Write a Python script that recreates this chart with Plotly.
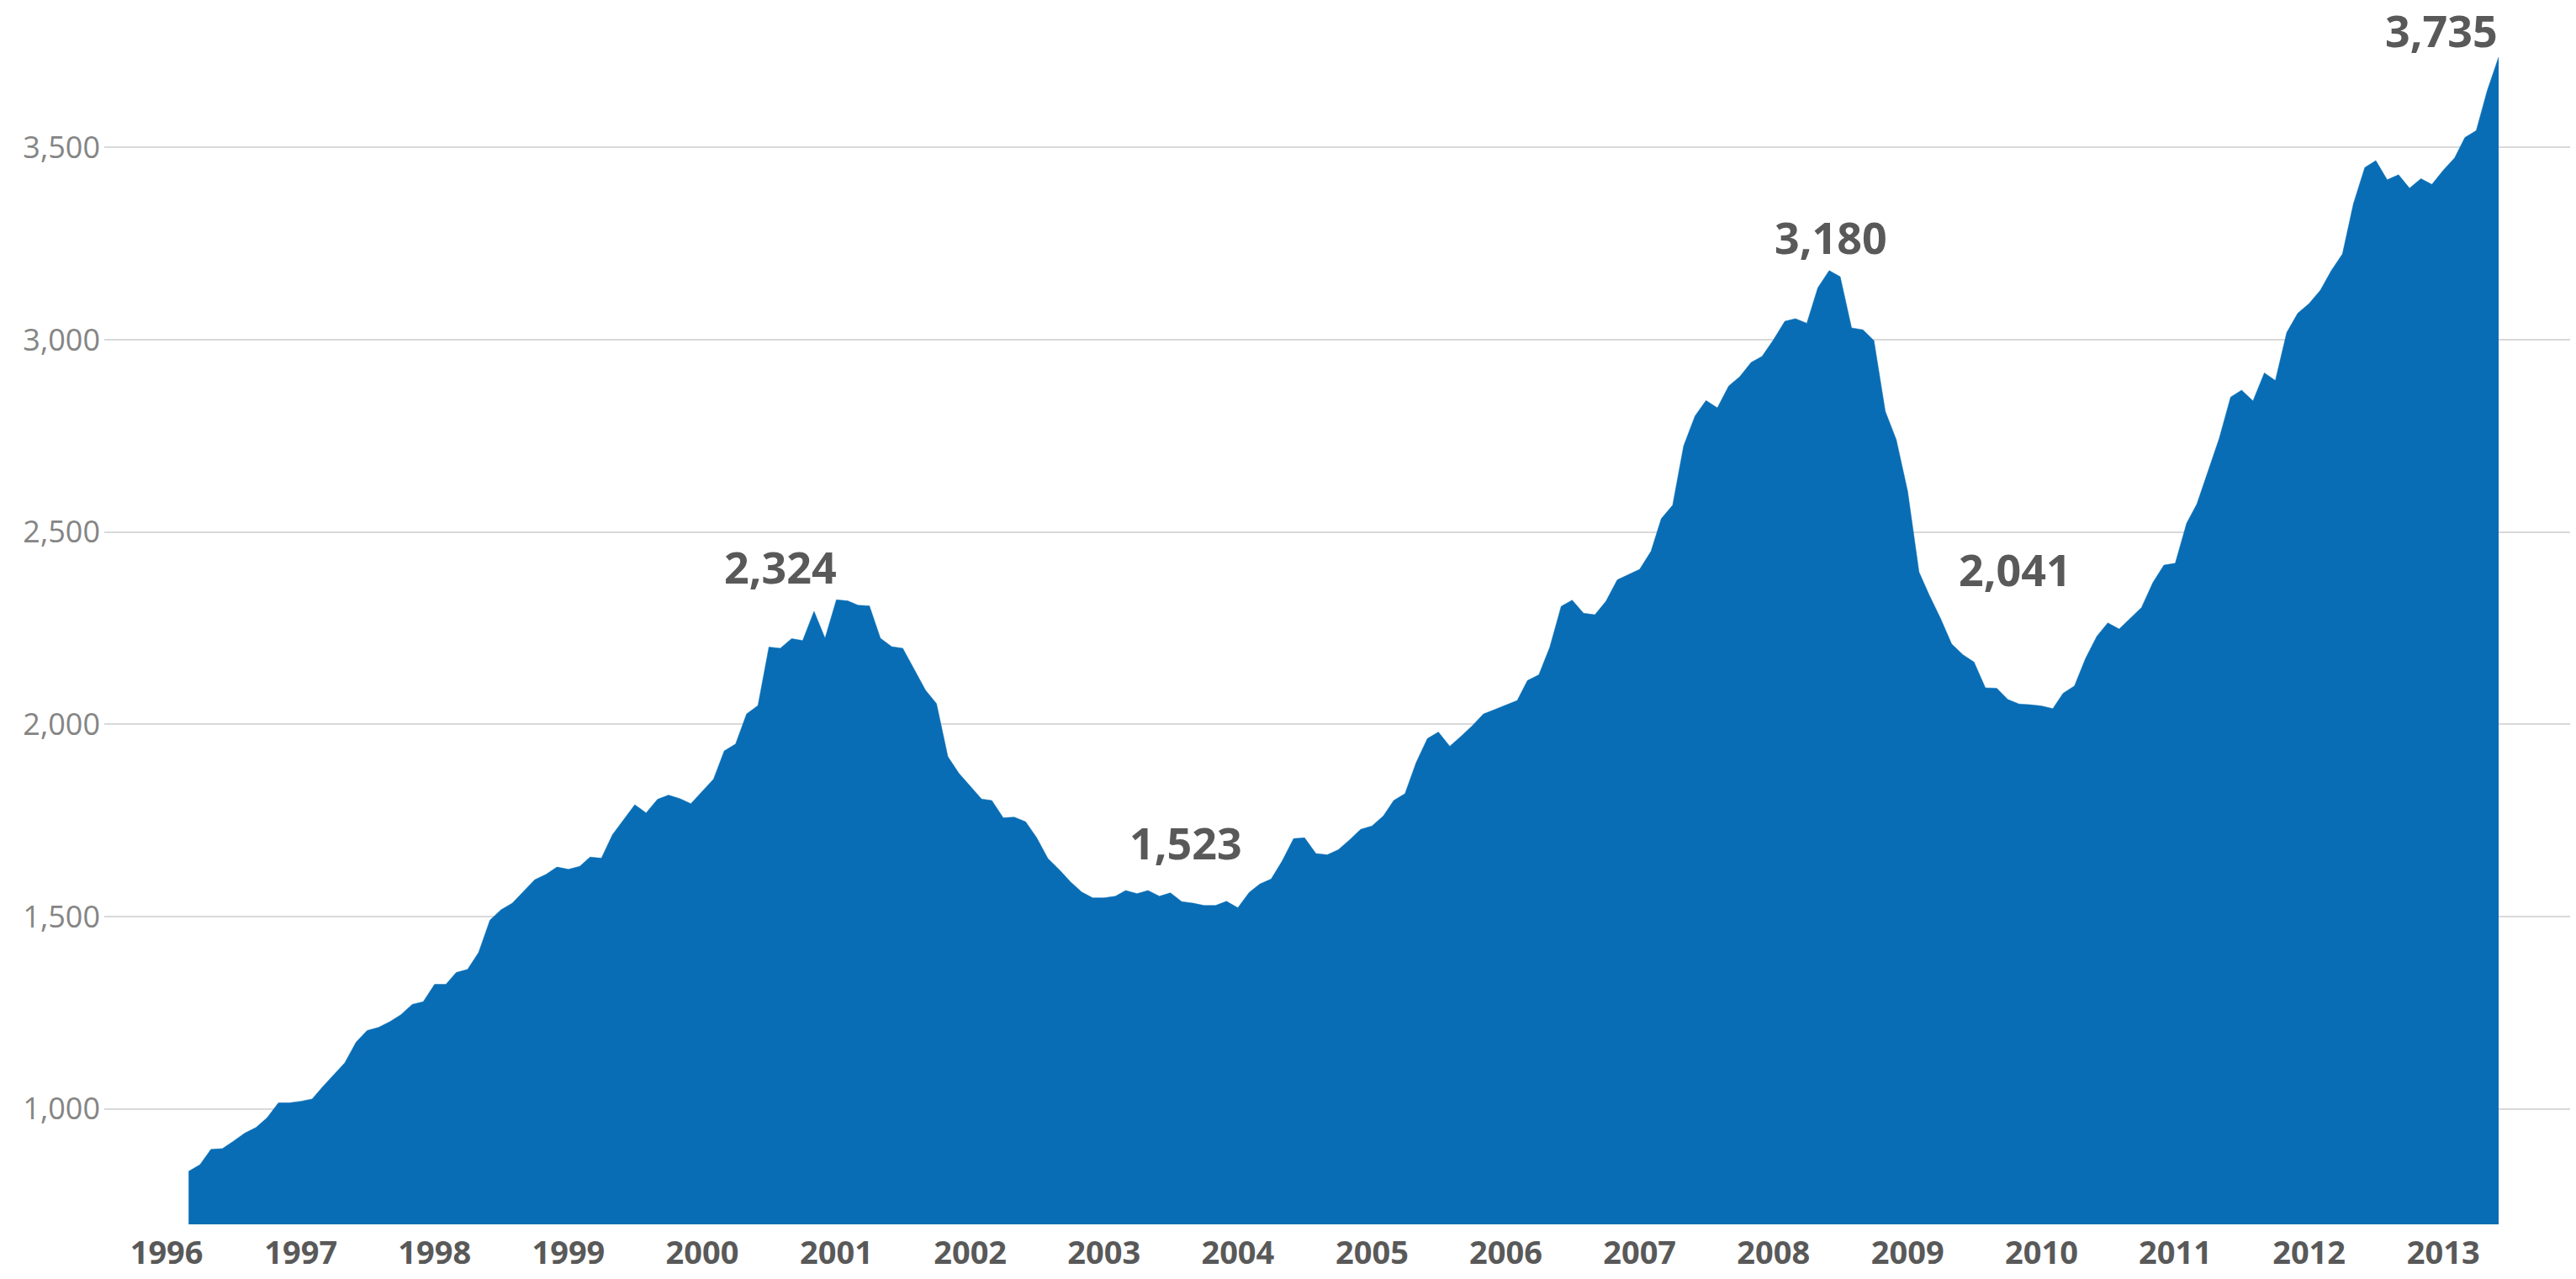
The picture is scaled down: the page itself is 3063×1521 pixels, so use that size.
import pandas as pd
import plotly.graph_objects as go

# Monthly index values, March 1996 - June 2013
start_month = "1996-03-01"
values = [
    838, 855, 895, 897, 916, 937, 952, 977, 1016, 1016, 1020, 1026,
    1057, 1088, 1120, 1174, 1204, 1212, 1227, 1245, 1272, 1279, 1324, 1324,
    1355, 1363, 1407, 1491, 1518, 1535, 1565, 1596, 1610, 1629, 1623, 1631,
    1655, 1652, 1713, 1752, 1791, 1770, 1805, 1816,
    1807, 1794, 1826, 1858, 1931, 1949, 2027, 2049, 2201, 2198, 2223, 2218,
    2294, 2224, 2324, 2321, 2310, 2308, 2224, 2202, 2198, 2142, 2089, 2054,
    1916, 1873, 1840, 1806, 1802, 1757, 1759, 1747, 1706, 1651, 1622, 1591,
    1564, 1549, 1549, 1553, 1568, 1560, 1568,
    1553, 1562, 1539, 1535, 1529, 1529, 1540, 1523, 1563, 1585, 1598, 1645,
    1703, 1705, 1664, 1661, 1674, 1700, 1727, 1736, 1762, 1802, 1820, 1900,
    1963, 1980, 1943, 1969, 1996, 2027, 2039, 2051, 2062, 2114, 2129, 2201,
    2307, 2323, 2289, 2285, 2320, 2376,
    2390, 2403, 2450, 2535, 2570, 2724, 2802, 2842, 2823, 2880, 2904, 2941,
    2957, 3000, 3048, 3055, 3043, 3135, 3180, 3164, 3031, 3026, 2998, 2814,
    2740, 2606, 2396, 2336, 2275, 2209, 2181, 2162, 2095, 2094, 2065, 2053,
    2051, 2048, 2041,
    2081, 2100, 2171, 2229, 2264, 2248, 2276, 2304, 2369, 2414, 2419, 2523,
    2573, 2660, 2744, 2851, 2869, 2841, 2914, 2894, 3019, 3069, 3094, 3129,
    3179, 3223, 3354, 3448, 3466, 3416, 3429, 3394, 3419, 3404, 3441, 3473,
    3526, 3544, 3648, 3735,
]
dates = pd.date_range(start_month, periods=len(values), freq="MS")

year_labels = [str(y) for y in range(1996, 2014)]
year_ticks = [f"{y}-01-01" for y in year_labels]
y_ticks = [1000, 1500, 2000, 2500, 3000, 3500]

# Highlighted values (peaks and troughs)
callout_texts = ["2,324", "1,523", "3,180", "2,041", "3,735"]
callout_dates = ["2000-08-02", "2003-08-12", "2008-06-05", "2009-10-20", "2012-12-26"]
callout_levels = [2411, 1693, 3268, 2405, 3805]

fig = go.Figure()
fig.add_trace(go.Scatter(
    x=dates, y=values, mode="lines", fill="tozeroy",
    line=dict(color="#086DB5", width=0.5), fillcolor="#086DB5",
    hoverinfo="x+y", showlegend=False,
))

for t, d, v in zip(callout_texts, callout_dates, callout_levels):
    fig.add_annotation(
        x=d, y=v, text=t, showarrow=False, xanchor="center", yanchor="middle",
        font=dict(family="Open Sans", size=52, color="#595959", weight="bold"),
    )

fig.update_layout(
    width=3063, height=1521,
    margin=dict(l=124, r=7, t=8, b=61),
    paper_bgcolor="white", plot_bgcolor="white",
    xaxis=dict(
        type="date", range=["1995-07-15", "2013-12-13"],
        tickvals=year_ticks, ticktext=year_labels,
        showgrid=False, zeroline=False, showline=False, ticks="",
        tickfont=dict(family="Open Sans", size=38, color="#595959", weight="bold"),
        ticklabelstandoff=8,
    ),
    yaxis=dict(
        range=[700, 3866], tickvals=y_ticks, tickformat=",",
        showgrid=True, gridcolor="#D9D9D9", gridwidth=2,
        zeroline=False, showline=False, ticks="",
        tickfont=dict(family="Open Sans", size=36, color="#858585"),
        ticklabelstandoff=4,
    ),
)

fig.write_html(
    "out.html",
    config={"displayModeBar": False},
    post_script="document.body.style.margin='0px';",
)
